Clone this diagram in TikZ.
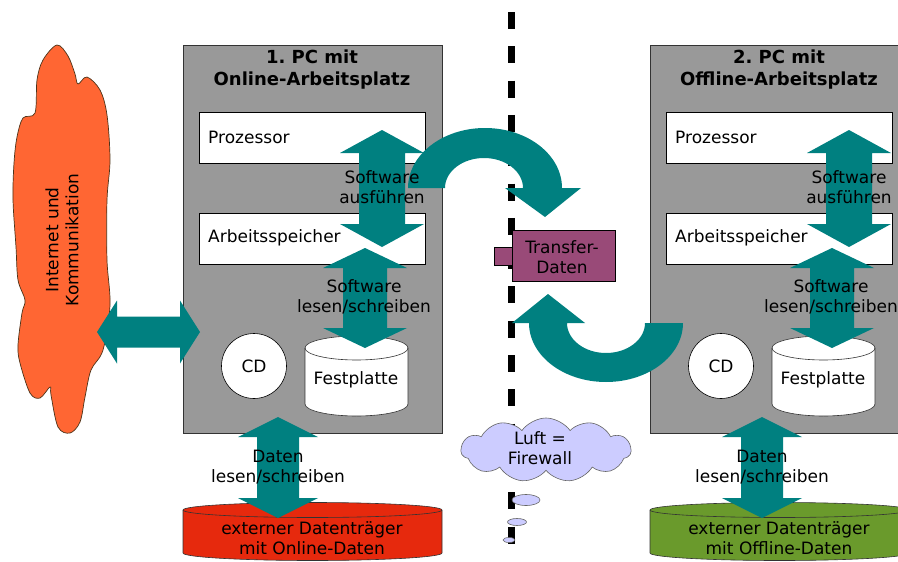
\documentclass[tikz,border=0pt]{standalone}
\usepackage{fontspec}
\setmainfont{DejaVu Sans}
\frenchspacing
\usetikzlibrary{shapes.symbols}
\definecolor{pcgray}{HTML}{999999}
\definecolor{arrowteal}{HTML}{008080}
\definecolor{inetorange}{HTML}{FF6633}
\definecolor{extred}{HTML}{E6290D}
\definecolor{extgreen}{HTML}{6A9A2C}
\definecolor{transfercol}{HTML}{994A78}
\definecolor{fwlav}{HTML}{CCCCFF}
\tikzset{
  pcbox/.style={draw=black!80, fill=pcgray, line width=0.8pt, minimum width=259pt, minimum height=388pt, inner sep=0pt},
  unitbox/.style={draw=black, fill=white, line width=0.6pt, minimum width=226pt, minimum height=51pt, inner sep=0pt},
  lbl/.style={font=\fontsize{17}{20}\selectfont, align=center, inner sep=0pt},
  ttl/.style={font=\fontsize{18}{22}\selectfont\bfseries, align=center, inner sep=0pt},
  blockarrow/.style={fill=arrowteal},
  cdstyle/.style={circle, draw=black, fill=white, line width=0.6pt, minimum size=65pt, inner sep=0pt, font=\fontsize{17}{20}\selectfont},
  outl/.style={draw=black!80, line width=0.6pt},
}
% vertical double block arrow: x, ytop, ybot, shaft hw, head hw, head len
\newcommand\vdarrow[6]{%
  \fill[blockarrow] (#1,#2) -- (#1+#5,#2+#6) -- (#1+#4,#2+#6) -- (#1+#4,#3-#6) -- (#1+#5,#3-#6) -- (#1,#3)
    -- (#1-#5,#3-#6) -- (#1-#4,#3-#6) -- (#1-#4,#2+#6) -- (#1-#5,#2+#6) -- cycle;}
% horizontal double block arrow: y, xleft, xright, shaft hw, head hw, head len
\newcommand\hdarrow[6]{%
  \fill[blockarrow] (#2,#1) -- (#2+#6,#1-#5) -- (#2+#6,#1-#4) -- (#3-#6,#1-#4) -- (#3-#6,#1-#5) -- (#3,#1)
    -- (#3-#6,#1+#5) -- (#3-#6,#1+#4) -- (#2+#6,#1+#4) -- (#2+#6,#1+#5) -- cycle;}
% cylinder: xleft, ytop, ybot, rx, ry, colour
\newcommand\drawcyl[6]{%
  \filldraw[outl, fill=#6] (#1,#2) -- (#1,#3) arc[start angle=180,end angle=360,x radius=#4pt,y radius=#5pt]
    -- (#1+2*#4,#2) arc[start angle=0,end angle=180,x radius=#4pt,y radius=#5pt] -- cycle;
  \draw[outl] (#1,#2) arc[start angle=180,end angle=360,x radius=#4pt,y radius=#5pt];}
% one PC: base parts
\newcommand\pcbase[3]{%
  \node[pcbox] (#1pc) at (312.5,239) {};
  \node[ttl] (#1title) at (312,70) {#2\\#3};
  \node[unitbox] (#1cpu) at (312,137.5) {};
  \node[lbl, anchor=west] (#1cpulbl) at (208,137) {Prozessor};
  \node[unitbox] (#1ram) at (312,238.5) {};
  \node[lbl, anchor=west] (#1ramlbl) at (208,238) {Arbeitsspeicher};
  \node[cdstyle] (#1cd) at (254,366) {CD};
  \drawcyl{305}{348}{404}{51.5}{12}{white}
  \node[lbl] (#1hdd) at (356,380) {Festplatte};
}
% one PC: internal arrows and labels
\newcommand\pcarrows[1]{%
  \vdarrow{382}{130}{247}{23}{42}{23}
  \node[lbl] (#1exec) at (382,187) {Software\\ausführen};
  \vdarrow{365}{248}{348}{22}{42}{20}
  \node[lbl] (#1rw) at (364,297) {Software\\lesen/schreiben};
}
\begin{document}
\begin{tikzpicture}[x=1pt,y=-1pt]
\useasboundingbox (0,0) rectangle (898,562);
\begin{scope}
\clip (0,0) rectangle (898,562);
\fill[white] (0,0) rectangle (898,562);
% Internet cloud
\draw[fill=inetorange, draw=black!60!brown, line width=0.7pt] plot[smooth cycle, tension=0.55] coordinates {
  (57,45) (68,56) (75,74) (78,84) (87,77) (100,90) (107,115) (110,160) (107,200) (107,260)
  (110,305) (103,350) (91,370) (85,397) (80,422) (70,433) (58,427) (51,395) (50,387)
  (40,398) (30,393) (20,363) (18,345) (22,313) (25,300) (18,280) (16,247) (13,200) (14,163)
  (17,137) (23,118) (35,113) (37,80) (43,60)};
\node[lbl, rotate=90] (inet) at (62,240) {Internet und\\Kommunikation};
% PCs
\pcbase{on}{1. PC mit}{Online-Arbeitsplatz}
\begin{scope}[xshift=467pt]
\pcbase{off}{2. PC mit}{Offline-Arbeitsplatz}
\end{scope}
% internet connection
\hdarrow{332}{97}{200}{15.5}{31.5}{20}
% firewall line
\draw[line width=7pt, dash pattern=on 17pt off 17.3pt] (511,12) -- (511,545);
% curved transfer arrows
\fill[blockarrow] (408,188) arc[start angle=180,end angle=0,x radius=77pt,y radius=60pt]
  -- (581,188) -- (545,217) -- (505,188) -- (523,188)
  arc[start angle=0,end angle=180,x radius=39pt,y radius=30pt] -- cycle;
\fill[blockarrow] (683,323) arc[start angle=0,end angle=-180,x radius=77pt,y radius=59pt]
  -- (512,323) -- (548,294) -- (585,323) -- (567,323)
  arc[start angle=180,end angle=360,x radius=39pt,y radius=30pt] -- cycle;
% PC internal arrows
\pcarrows{on}
\begin{scope}[xshift=467pt]
\pcarrows{off}
\end{scope}
% transfer data
\node[draw=black, fill=transfercol, line width=0.6pt, minimum width=18pt, minimum height=18pt, inner sep=0pt] (tab) at (503,256) {};
\node[draw=black, fill=transfercol, line width=0.6pt, minimum width=103pt, minimum height=51pt, inner sep=0pt] (transfer) at (563.5,255.5) {};
\node[lbl] (transferlbl) at (562,257) {Transfer-\\Daten};
% firewall cloud
\node[cloud, cloud puffs=11, cloud puff arc=110, aspect=2.6, draw=black!60, fill=fwlav, line width=0.6pt, minimum width=170pt, minimum height=64pt, inner sep=0pt] (fw) at (546,450) {};
\node[lbl] (fwlbl) at (540,448) {Luft =\\Firewall};
\filldraw[draw=black!60, fill=fwlav, line width=0.6pt] (526,500) ellipse[x radius=14pt, y radius=5.5pt];
\filldraw[draw=black!60, fill=fwlav, line width=0.6pt] (517,522) ellipse[x radius=9.5pt, y radius=3.5pt];
\filldraw[draw=black!60, fill=fwlav, line width=0.6pt] (509,540) ellipse[x radius=6pt, y radius=2.5pt];
% external media
\drawcyl{183}{510}{553}{129.5}{7.5}{extred}
\drawcyl{650}{510}{553}{129.5}{7.5}{extgreen}
\vdarrow{278}{417}{518}{21}{40}{20}
\vdarrow{762}{417}{518}{21}{40}{20}
\node[lbl] (ondaten) at (278,467) {Daten\\lesen/schreiben};
\node[lbl] (offdaten) at (762,467) {Daten\\lesen/schreiben};
\node[lbl] (onext) at (312,538) {externer Datenträger\\mit Online-Daten};
\node[lbl] (offext) at (779,538) {externer Datenträger\\mit Offline-Daten};
\end{scope}
\end{tikzpicture}
\end{document}
